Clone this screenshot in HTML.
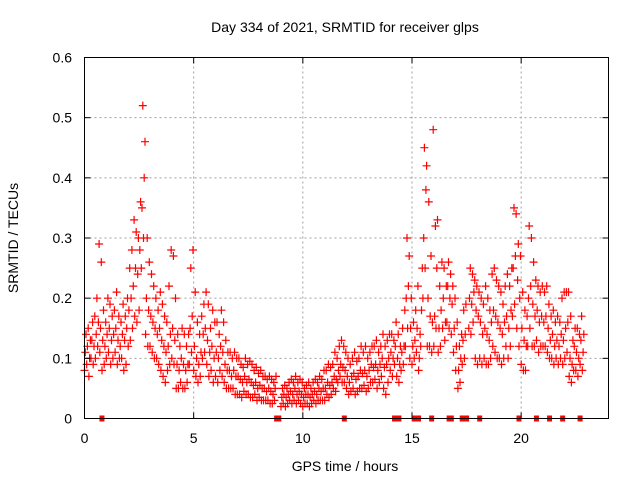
<!DOCTYPE html>
<html><head><meta charset="utf-8"><style>
body{margin:0;background:#fff}
svg{display:block;font-family:"Liberation Sans",sans-serif}
</style></head><body>
<svg id="chart" width="640" height="480" viewBox="0 0 640 480" xmlns="http://www.w3.org/2000/svg">
<text x="345" y="32" font-size="14" text-anchor="middle">Day 334 of 2021, SRMTID for receiver glps</text>
<text x="345" y="471" font-size="14" text-anchor="middle">GPS time / hours</text>
<text transform="translate(18,238) rotate(-90)" font-size="14" text-anchor="middle">SRMTID / TECUs</text>
<g id="grid"></g><g id="marks"></g>
<rect x="84.5" y="57.5" width="524" height="361" fill="none" stroke="#000" stroke-width="1"/>
<g id="ticks"></g>
</svg>
<script>
const xTicks=[0,5,10,15,20];
const yTicks=[0,0.1,0.2,0.3,0.4,0.5,0.6];
const yTickLabels=["0","0.1","0.2","0.3","0.4","0.5","0.6"];
const tStep=0.1;
const loVals=[.08,.09,.07,.10,.09,.10,.12,.11,.08,.09,.10,.11,.09,.10,.11,.09,.10,.10,.08,.09,.12,.13,.15,.17,.16,.18,.25,.30,.14,.12,.12,.11,.10,.10,.09,.08,.07,.06,.08,.09,.10,.09,.05,.05,.06,.05,.05,.06,.09,.11,.08,.07,.06,.07,.10,.11,.09,.07,.08,.06,.07,.06,.08,.07,.06,.05,.05,.05,.05,.04,.04,.04,.035,.045,.04,.04,.035,.035,.04,.03,.035,.03,.03,.03,.03,.025,.025,.03,null,null,.02,.025,.02,.025,.03,.025,.03,.025,.03,.025,.02,.025,.025,.02,.025,.03,.025,.03,.03,.03,.03,.04,.035,.04,.05,.045,.06,.07,.06,.06,.05,.04,.045,.05,.04,.045,.05,.05,.055,.045,.05,.06,.06,.065,.05,.06,.07,.05,.04,.06,.08,.07,.09,.07,.06,.08,.09,.12,.15,.10,.09,.10,.11,.08,.12,.20,.25,.12,.12,.11,.12,.15,.11,.12,.15,.13,.16,.15,.14,.11,.08,.05,.06,.09,.10,null,.15,.14,.16,.10,.09,.10,.09,.10,.09,.09,.10,.12,.11,.10,.10,.09,.10,.12,.10,.12,.17,.19,.15,.12,.09,.08,.08,.12,.15,.12,.12,.13,.11,.12,.12,.12,.11,.10,.10,.09,.10,.09,.10,.09,.10,.11,.07,.06,.08,.08,.07,.09,.08];
const midVals=[.11,.12,.10,.13,.12,.14,.16,.15,.13,.12,.14,.15,.13,.14,.15,.13,.12,.14,.13,.15,.18,.20,.22,.25,.24,.28,.35,.40,.20,.18,.17,.16,.15,.14,.15,.13,.12,.11,.12,.14,.15,.13,.09,.08,.10,.09,.08,.09,.15,.17,.12,.10,.09,.11,.14,.15,.13,.11,.12,.10,.11,.10,.12,.11,.09,.08,.08,.07,.08,.07,.07,.065,.06,.07,.06,.065,.06,.055,.06,.05,.055,.05,.05,.045,.05,.045,.04,.05,null,null,.035,.04,.035,.04,.045,.04,.05,.04,.045,.04,.035,.04,.04,.035,.04,.045,.04,.05,.045,.05,.05,.06,.055,.06,.07,.065,.08,.09,.085,.08,.07,.06,.07,.075,.065,.07,.08,.075,.08,.07,.08,.09,.085,.09,.08,.09,.10,.085,.09,.10,.11,.10,.12,.10,.09,.11,.12,.20,.22,.15,.12,.13,.15,.10,.18,.30,.38,.20,.17,.16,.17,.25,.15,.18,.20,.16,.22,.20,.19,.15,.12,.08,.10,.13,.14,null,.20,.19,.21,.18,.17,.16,.14,.15,.14,.13,.16,.18,.17,.16,.15,.14,.16,.17,.15,.18,.25,.27,.23,.20,.15,.13,.12,.20,.22,.19,.17,.18,.16,.17,.16,.17,.15,.13,.14,.12,.13,.12,.14,.13,.15,.16,.10,.09,.12,.11,.10,.13,.11];
const hiVals=[.14,.15,.13,.16,.17,.20,.29,.26,.18,.16,.20,.19,.17,.18,.21,.17,.16,.19,.17,.20,.25,.28,.33,.31,.30,.36,.52,.46,.30,.26,.24,.22,.20,.18,.21,.19,.17,.16,.22,.28,.27,.20,.14,.12,.15,.14,.12,.14,.25,.28,.21,.16,.14,.17,.19,.21,.19,.15,.18,.16,.16,.14,.18,.16,.13,.11,.11,.10,.11,.10,.10,.09,.085,.10,.09,.095,.09,.08,.085,.075,.08,.07,.07,.065,.07,.065,.06,.07,null,null,.05,.055,.05,.06,.065,.06,.07,.06,.065,.06,.05,.055,.06,.05,.06,.065,.06,.07,.065,.08,.08,.09,.085,.09,.11,.10,.12,.13,.12,.11,.10,.09,.10,.11,.095,.10,.12,.11,.12,.10,.11,.12,.12,.13,.11,.12,.14,.12,.13,.14,.14,.13,.16,.14,.12,.15,.18,.30,.27,.20,.16,.18,.22,.14,.25,.45,.42,.36,.27,.48,.32,.33,.22,.26,.25,.22,.26,.24,.22,.20,.16,.12,.14,.18,.19,null,.25,.24,.23,.22,.21,.20,.19,.22,.20,.18,.24,.25,.23,.22,.21,.19,.22,.24,.22,.25,.35,.34,.29,.27,.21,.18,.17,.32,.30,.26,.23,.22,.21,.22,.21,.22,.19,.17,.18,.16,.17,.16,.20,.21,.21,.21,.17,.13,.15,.15,.14,.17,.14];
const gapTimes=[0.8,8.8,8.9,11.9,14.2,14.4,15.1,15.3,15.9,16.7,16.8,17.3,17.5,18.1,19.9,20.7,21.3,21.9,22.7];
const X0=84.5,X1=608.5,Y0=418.5,Y1=57.5,XMAX=24,YMAX=0.6;
function xs(t){return X0+(X1-X0)*t/XMAX;}
function ys(v){return Y0-(Y0-Y1)*v/YMAX;}
const NS="http://www.w3.org/2000/svg";
const grid=document.getElementById('grid'),ticks=document.getElementById('ticks'),marks=document.getElementById('marks');
function mk(tag,attrs,parent){const e=document.createElementNS(NS,tag);for(const k in attrs)e.setAttribute(k,attrs[k]);parent.appendChild(e);return e;}
xTicks.forEach(t=>{
  const x=xs(t);
  if(t>0){const g=mk('line',{x1:x,x2:x,y1:Y0,y2:Y1,stroke:'#a0a0a0','stroke-dasharray':'2,3'},grid);
  
  }
  mk('line',{x1:x,x2:x,y1:Y0,y2:Y0-6,stroke:'#000'},ticks);
  mk('line',{x1:x,x2:x,y1:Y1,y2:Y1+6,stroke:'#000'},ticks);
  const l=mk('text',{x:x,y:443,'font-size':14,'text-anchor':'middle'},ticks);l.textContent=String(t);
  
  
});
yTicks.forEach((v,i)=>{
  const y=ys(v);
  if(v>0&&v<YMAX){const g=mk('line',{x1:X0,x2:X1,y1:y,y2:y,stroke:'#a0a0a0','stroke-dasharray':'2,3'},grid);
  
  }
  mk('line',{x1:X0,x2:X0+6,y1:y,y2:y,stroke:'#000'},ticks);
  mk('line',{x1:X1,x2:X1-6,y1:y,y2:y,stroke:'#000'},ticks);
  const l=mk('text',{x:72,y:y+5,'font-size':14,'text-anchor':'end'},ticks);l.textContent=yTickLabels[i];
  
  
});
let d='';
function plus(x,y){d+=`M${(x-4).toFixed(1)} ${y.toFixed(1)}h8M${x.toFixed(1)} ${(y-4).toFixed(1)}v8`;}
[[loVals,0],[midVals,0.035],[hiVals,0.07]].forEach(([arr,off])=>{
  arr.forEach((v,i)=>{if(v===null)return;plus(xs(i*tStep+off),ys(v));});
});
const p=mk('path',{d:d,stroke:'#ff0000','stroke-width':1.2,fill:'none'},marks);


gapTimes.forEach(t=>{
  const r=mk('rect',{x:xs(t)-2.5,y:Y0-3,width:5,height:6,fill:'#ff0000'},marks);
  
  
});
</script>
</body></html>
